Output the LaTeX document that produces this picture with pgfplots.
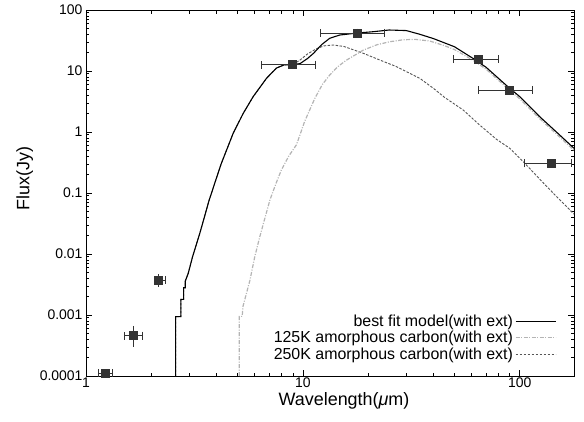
\documentclass[border=0pt]{standalone}
\usepackage{pgfplots}
\pgfplotsset{compat=1.18}
\usepackage{fontspec}
\setmainfont{Liberation Sans}

\definecolor{ptcol}{HTML}{333333}
\definecolor{c125}{HTML}{B4B4B4}
\definecolor{c250}{HTML}{555555}

% observed photometry: x, y, x-err minus/plus, y-err minus/plus
\pgfplotstableread{
x     y         exm    exp    eym       eyp
1.23  0.000112  0.09   0.10   0         0
1.65  0.00046   0.15   0.17   0.00011   0.00011
2.16  0.0037    0.10   0.17   0.0003    0.0003
8.9   12.7      2.43   2.5    0         0
17.8  42        5.7    5.9    0         0
64.3  15.6      14.6   15.1   0         0
89.3  4.9       25.0   24.7   0         0
139   0.307     34.3   34     0         0
}\obsdata

\begin{document}
\begin{tikzpicture}[x=1bp,y=1bp]
\path[use as bounding box] (-86,-45) rectangle (498,376);
\begin{axis}[
  at={(0,0)}, anchor=south west,
  scale only axis, width=488bp, height=366bp,
  xmode=log, ymode=log,
  xmin=1, xmax=178, ymin=1e-4, ymax=100,
  xtick={1,10,100}, xticklabels={1,10,100},
  ytick={1e-4,1e-3,1e-2,1e-1,1,10,100},
  yticklabels={0.0001,0.001,0.01,0.1,1,10,100},
  tick align=inside,
  axis line style={line width=1pt},
  major tick length=6bp, minor tick length=3.5bp,
  every tick/.style={black, line width=0.7pt},
  ticklabel style={font=\fontsize{14}{16}\selectfont},
  xticklabel style={yshift=2bp},
  xlabel={Wavelength(\textit{μ}m)}, ylabel={Flux(Jy)},
  label style={font=\fontsize{18}{20}\selectfont},
  xlabel style={xshift=14bp, yshift=2bp},
  every axis y label/.append style={at={(ticklabel cs:0.54)}},
  legend image code/.code={\draw[#1] (0bp,0bp) -- (40bp,0bp);},
  legend plot pos=right, legend cell align=right, reverse legend,
  legend style={at={(rel axis cs:0.97,0.03)}, anchor=south east,
    draw=none, fill=none, row sep=-0.5bp,
    font=\fontsize{16}{18}\selectfont},
]
% 250K amorphous carbon
\addplot[c250, line width=0.9pt, dash pattern=on 2.5bp off 1.5bp] table {
2.59 0.0001
2.59 0.00094
2.74 0.00094
2.74 0.0018
2.82 0.0018
2.82 0.0028
2.87 0.0028
2.87 0.0036
2.96 0.0048
3.1  0.009
3.35 0.022
3.7  0.077
4.2  0.3
4.77 0.95
5.3  2.0
5.9  3.8
6.8  7.6
7.56 11.2
8.2  12.6
9.0  12.8
9.7  15.1
10.5 19
11.5 23
12.5 25.8
13.8 26.7
15.5 25.2
19   19.5
23   14.8
27   11.8
34.6 7.6
40   5.2
45   3.7
54.8 2.3
65.4 1.3
78.1 0.76
90   0.54
105.5 0.307
130  0.14
150  0.083
178  0.045
};
\addlegendentry{250K amorphous carbon(with ext)}
% 125K amorphous carbon
\addplot[c125, line width=1.2pt, dash pattern=on 4bp off 1.5bp on 1bp off 1.5bp] table {
5.09 0.0001
5.09 0.00095
5.25 0.00095
5.3  0.0014
5.7  0.0037
6.0  0.009
6.3  0.018
6.7  0.04
7.05 0.077
7.5  0.14
7.97 0.24
8.6  0.40
9.35 0.62
10.2 1.5
11.36 3.57
12.3 6
13.3 8.6
14.5 11.8
15.9 15.1
19   22
22   27
25.2 30.2
29   32.5
33   33
38.5 31
45   26
50   22.5
60.9 15
70   10.7
88.3 5.1
100  3.5
123.7 1.65
150  0.88
178  0.5
};
\addlegendentry{125K amorphous carbon(with ext)}
% best fit model
\addplot[black, line width=1.1pt] table {
2.59 0.0001
2.59 0.00094
2.74 0.00094
2.74 0.0018
2.82 0.0018
2.82 0.0028
2.87 0.0028
2.87 0.0036
2.96 0.0048
3.1  0.009
3.35 0.022
3.7  0.077
4.2  0.3
4.77 0.95
5.3  2.0
5.9  3.8
6.8  7.6
7.56 11.2
8.2  12.6
9.0  12.8
9.7  13.2
10.5 16
11.2 19.5
12.2 27
13.3 34.4
14.8 38.9
17.9 42
21   44
25   47
30   46
34.6 40
40   34
50   25
60.9 16.1
70   11.5
88.3 5.5
100  3.8
123.7 1.78
150  0.95
178  0.54
};
\addlegendentry{best fit model(with ext)}
% observations: x error bars with vertical caps
\addplot[forget plot, only marks, mark=none, ptcol,
  error bars/.cd, x dir=both, x explicit,
  error bar style={line width=0.8pt, ptcol},
  error mark=|, error mark options={mark size=4bp, line width=0.8pt, ptcol}]
  table[x=x, y=y, x error minus=exm, x error plus=exp] {\obsdata};
% y error bars with horizontal caps
\addplot[forget plot, only marks, mark=none, ptcol,
  error bars/.cd, y dir=both, y explicit,
  error bar style={line width=0.8pt, ptcol},
  error mark=-, error mark options={mark size=4bp, line width=0.8pt, ptcol}]
  table[x=x, y=y, y error minus=eym, y error plus=eyp] {\obsdata};
% squares
\addplot[forget plot, only marks, mark=square*, mark size=4bp, ptcol]
  table[x=x, y=y] {\obsdata};
\end{axis}
\end{tikzpicture}
\end{document}
